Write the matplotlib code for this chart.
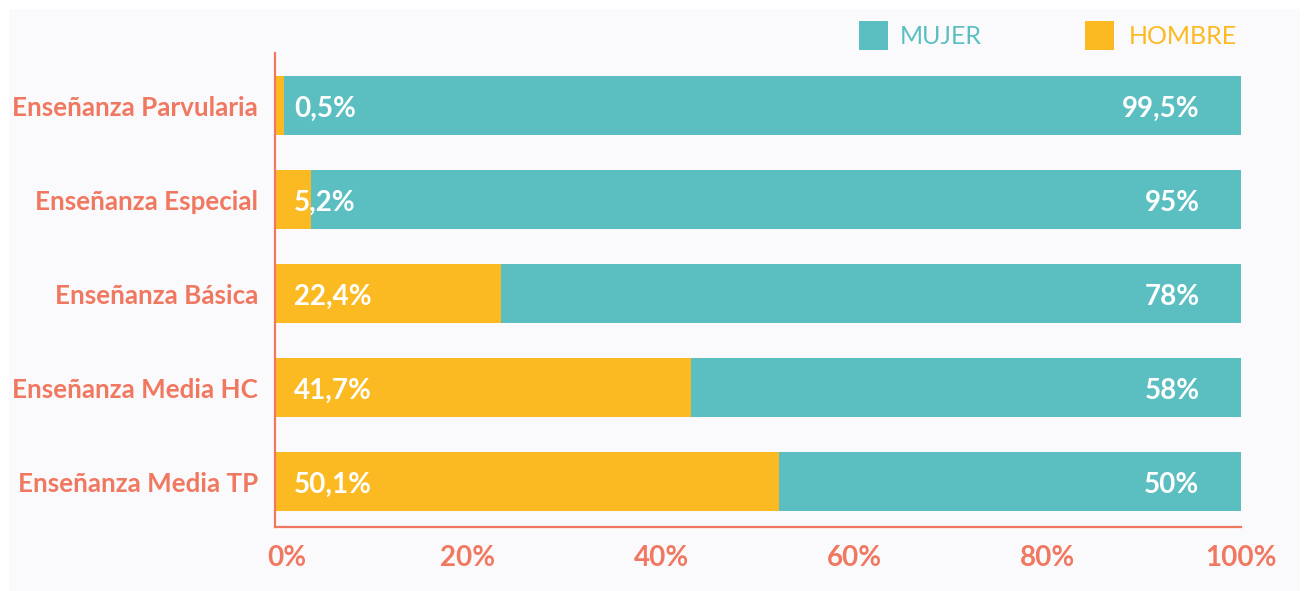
import matplotlib
matplotlib.use("Agg")
import matplotlib.pyplot as plt
from matplotlib.patches import Rectangle
import matplotlib.transforms as mtransforms

categories = ["Enseñanza Parvularia", "Enseñanza Especial", "Enseñanza Básica",
              "Enseñanza Media HC", "Enseñanza Media TP"]
hombre = [1.0, 3.8, 23.4, 43.1, 52.2]
mujer = [99.0, 96.2, 76.6, 56.9, 47.8]
hombre_labels = ["0,5%", "5,2%", "22,4%", "41,7%", "50,1%"]
mujer_labels = ["99,5%", "95%", "78%", "58%", "50%"]
xticks = [0, 20, 40, 60, 80, 100]
xtick_labels = ["0%", "20%", "40%", "60%", "80%", "100%"]
series_names = ["MUJER", "HOMBRE"]

TEAL = "#5BBFC2"
YELLOW = "#FBBA22"
SALMON = "#F07860"
BG = "#FAFAFC"
FONT = "Lato"

W, H = 1309, 591
fig = plt.figure(figsize=(W / 100, H / 100), dpi=100)
fig.patch.set_facecolor("white")
fig.patches.append(Rectangle((9 / W, 0), (1300 - 9) / W, (H - 9) / H,
                             transform=fig.transFigure, facecolor=BG,
                             edgecolor="none", zorder=-10))

ax_l, ax_r = 274.5 / W, 1241 / W
ax_b, ax_t = (H - 527) / H, (H - 53) / H
ax = fig.add_axes([ax_l, ax_b, ax_r - ax_l, ax_t - ax_b])
ax.set_facecolor("none")

y = list(range(len(categories)))
ax.barh(y, hombre, height=0.63, color=YELLOW, zorder=2)
ax.barh(y, mujer, left=hombre, height=0.63, color=TEAL, zorder=2)

ax.set_xlim(0, 100)
ax.set_ylim(4.48, -0.56)

down = mtransforms.ScaledTranslation(0, -3 / 100, fig.dpi_scale_trans)
for i in y:
    ax.text(2.0, i, hombre_labels[i], ha="left", va="center", color="white",
            fontsize=20, fontweight="bold", family=FONT, zorder=3,
            transform=ax.transData + down)
    ax.text(hombre[i] + mujer[i] - 4.3, i, mujer_labels[i], ha="right",
            va="center", color="white", fontsize=20, fontweight="bold",
            family=FONT, zorder=3, transform=ax.transData + down)

ax.set_yticks(y)
ax.set_yticklabels(categories, family=FONT, fontsize=18.7, fontweight="bold",
                   color=SALMON)
ax.set_xticks(xticks)
ax.set_xticklabels(xtick_labels, family=FONT, fontsize=20, fontweight="bold",
                   color=SALMON)
ax.tick_params(axis="both", length=0)
ax.tick_params(axis="y", pad=12)
ax.tick_params(axis="x", pad=13)
# nudge the 0% label right as in the reference
lbl0 = ax.get_xticklabels()[0]
lbl0.set_transform(lbl0.get_transform() +
                   mtransforms.ScaledTranslation(12 / 100, 0, fig.dpi_scale_trans))

for s in ["top", "right"]:
    ax.spines[s].set_visible(False)
for s in ["left", "bottom"]:
    ax.spines[s].set_color(SALMON)
    ax.spines[s].set_linewidth(1.6)

# legend
sq = 29
for (x0, name, col, tx) in [(859, series_names[0], TEAL, 900),
                            (1085, series_names[1], YELLOW, 1129)]:
    fig.patches.append(Rectangle((x0 / W, (H - 50) / H), sq / W, sq / H,
                                 transform=fig.transFigure, facecolor=col,
                                 edgecolor="none"))
    fig.text(tx / W, (H - 36) / H, name, ha="left", va="center", color=col,
             fontsize=18, fontweight="normal", family=FONT)

fig.savefig("out.png", dpi=100, facecolor=fig.get_facecolor())
